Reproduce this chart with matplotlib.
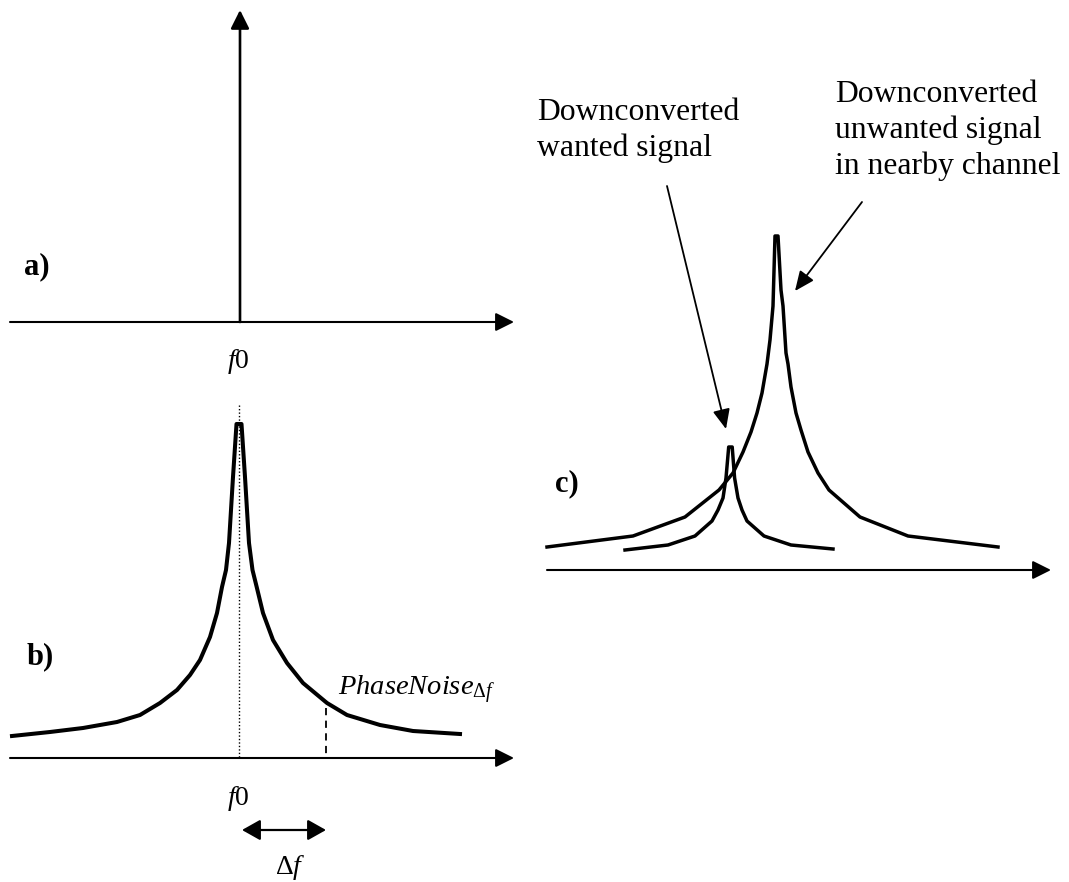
import matplotlib.pyplot as plt

plt.rcParams['font.family'] = ['Liberation Serif', 'DejaVu Serif']
plt.rcParams['mathtext.fontset'] = 'custom'
plt.rcParams['mathtext.rm'] = 'Liberation Serif'
plt.rcParams['mathtext.it'] = 'Liberation Serif:italic'

# diagram drawn in pixel units of the picture (y grows downwards)
# panel a: a single spectral line
a_axis_y = 322
a_axis_x = [10, 514]
a_line_x = 240
a_line_top = 10

# panel b: line with phase noise skirt
b_axis_y = 758
b_axis_x = [10, 514]
b_curve_x = [12, 50, 83, 117, 140, 160, 177, 190, 200, 210, 217, 222, 226, 229, 233, 236.5,
             241.5, 245, 249, 252.5, 256.7, 263, 273, 287, 303, 327, 347, 380, 413, 460]
b_curve_y = [736, 732, 728, 722, 715, 703, 690, 675, 660, 637, 613, 587, 570, 543, 477, 424,
             424, 477, 543, 570, 587, 613, 640, 663, 683, 703, 715, 725, 731, 734]
b_center_x = 239
b_offset_x = 326
b_offset_y = 708

# panel c: wanted signal next to a strong neighbour
c_axis_y = 570
c_axis_x = [547, 1051]
big_x = [547, 633, 685, 719, 733, 743, 751, 757, 762, 767, 770, 773, 775, 778,
         781, 783, 786, 788, 791, 796, 801, 808, 818, 829, 860, 908, 998]
big_y = [547, 536, 517, 490, 473, 452, 432, 413, 393, 364, 340, 306, 236, 236,
         290, 306, 353, 364, 387, 413, 430, 452, 473, 490, 517, 536, 547]
small_x = [625, 668, 695, 712, 718, 723, 726, 728.7, 732.2, 734.6, 738, 742, 747, 764, 791, 833]
small_y = [550, 545, 536, 521, 510, 498, 478, 447, 447, 478, 498, 510, 521, 536, 545, 549]

left_note = ['Downconverted', 'wanted signal']
right_note = ['Downconverted', 'unwanted signal', 'in nearby channel']

fig = plt.figure(figsize=(10.69, 8.82), dpi=100)
ax = fig.add_axes([0, 0, 1, 1])
ax.set_xlim(0, 1069)
ax.set_ylim(882, 0)
ax.axis('off')

head = '-|>,head_length=0.8,head_width=0.4'

def axis_arrow(x0, y0, x1, y1, lw=1.5):
    ax.annotate('', xy=(x1, y1), xytext=(x0, y0),
                arrowprops=dict(arrowstyle=head, mutation_scale=14, lw=lw,
                                color='black', shrinkA=0, shrinkB=0))

#a)---------------------------------------------------------------
axis_arrow(a_axis_x[0], a_axis_y, a_axis_x[1], a_axis_y)
axis_arrow(a_line_x, a_axis_y, a_line_x, a_line_top, lw=1.9)
ax.text(24, 267, 'a)', fontsize=22, fontweight='bold', ha='left', va='center')
ax.text(238, 368, r'$f\mathrm{0}$', fontsize=20, ha='center', va='baseline')

#b)---------------------------------------------------------------
axis_arrow(b_axis_x[0], b_axis_y, b_axis_x[1], b_axis_y)
ax.plot([b_center_x, b_center_x], [405, b_axis_y], color='black', lw=1, ls=(0, (1, 1.5)))
ax.plot(b_curve_x, b_curve_y, color='black', lw=2.9, solid_joinstyle='round')
ax.plot([b_offset_x, b_offset_x], [b_offset_y, b_axis_y], color='black', lw=1.3, ls=(0, (4, 3)))
ax.text(27, 657, 'b)', fontsize=22, fontweight='bold', ha='left', va='center')
ax.text(238, 805, r'$f\mathrm{0}$', fontsize=20, ha='center', va='baseline')
ax.text(338, 695, r'$PhaseNoise_{\Delta f}$', fontsize=20.5, ha='left', va='baseline')
ax.annotate('', xy=(b_offset_x, 830), xytext=(b_center_x + 3, 830),
            arrowprops=dict(arrowstyle='<|-|>,head_length=0.8,head_width=0.45', mutation_scale=14,
                            lw=1.6, color='black', shrinkA=0, shrinkB=0))
ax.text(290, 874, r'$\Delta f$', fontsize=20, ha='center', va='baseline')

#c)---------------------------------------------------------------
axis_arrow(c_axis_x[0], c_axis_y, c_axis_x[1], c_axis_y)
ax.plot(big_x, big_y, color='black', lw=2.5, solid_joinstyle='round')
ax.plot(small_x, small_y, color='black', lw=2.5, solid_joinstyle='round')
ax.text(555, 484, 'c)', fontsize=22, fontweight='bold', ha='left', va='center')

for i, line in enumerate(left_note):
    ax.text(537, 120.5 + i * 35.8, line, fontsize=22.8, ha='left', va='baseline')
for i, line in enumerate(right_note):
    ax.text(835, 101.5 + i * 36.3, line, fontsize=22.8, ha='left', va='baseline')

ax.annotate('', xy=(726, 429), xytext=(667, 186),
            arrowprops=dict(arrowstyle='-|>,head_length=0.8,head_width=0.35', mutation_scale=15,
                            lw=1.3, color='black', shrinkA=0, shrinkB=0))
ax.annotate('', xy=(795, 291), xytext=(862, 202),
            arrowprops=dict(arrowstyle='-|>,head_length=0.8,head_width=0.35', mutation_scale=15,
                            lw=1.3, color='black', shrinkA=0, shrinkB=0))

plt.savefig('out.png', dpi=100)
